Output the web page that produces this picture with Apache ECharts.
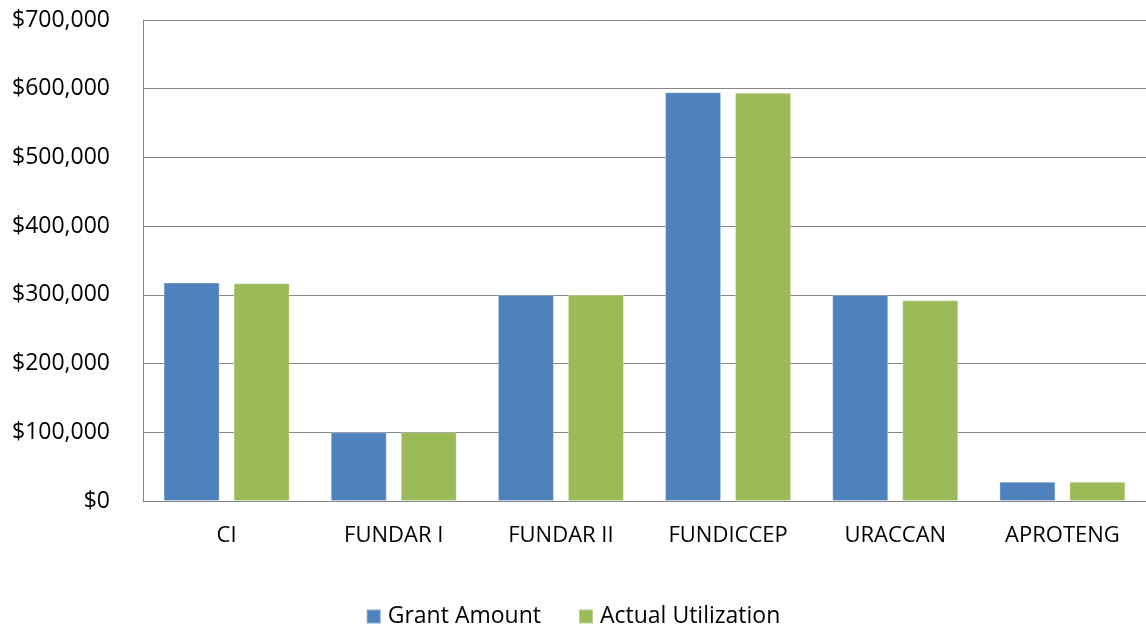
<!DOCTYPE html>
<html>
<head>
<meta charset="utf-8">
<title>Grant Amount vs Actual Utilization</title>
<script src="https://cdn.jsdelivr.net/npm/echarts@6/dist/echarts.min.js"></script>
<style>
  html, body { margin: 0; padding: 0; background: #ffffff; }
  #chart { width: 1146px; height: 627px; }
</style>
</head>
<body>
<div id="chart"></div>
<script>
// data
var categories = ['CI', 'FUNDAR I', 'FUNDAR II', 'FUNDICCEP', 'URACCAN', 'APROTENG']
var grantAmount = [318000, 100000, 300000, 595000, 300000, 28000]
var actualUtilization = [317000, 100000, 300000, 594000, 292000, 28000]
var seriesNames = ['Grant Amount', 'Actual Utilization']

var fontName = '"Open Sans", "Liberation Sans", sans-serif'
var lineColor = '#868686'

var chart = echarts.init(document.getElementById('chart'))

var option = {
    animation: false,
    textStyle: { fontFamily: fontName },
    grid: {
        left: 143,
        right: 0,
        top: 20,
        bottom: 126
    },
    legend: {
        data: seriesNames,
        left: 'center',
        top: 600,
        itemWidth: 14,
        itemHeight: 14,
        itemGap: 37,
        icon: 'rect',
        textStyle: { color: '#000000', fontSize: 23, fontFamily: fontName, padding: [0, 0, 0, 2] }
    },
    xAxis: {
        type: 'category',
        data: categories,
        axisLine: { show: true, lineStyle: { color: lineColor, width: 1 } },
        axisTick: { show: false },
        axisLabel: { color: '#000000', fontSize: 22, margin: 24, fontFamily: fontName }
    },
    yAxis: {
        type: 'value',
        min: 0,
        max: 700000,
        interval: 100000,
        axisLine: { show: true, lineStyle: { color: lineColor, width: 1 } },
        axisTick: { show: false },
        splitLine: { show: true, lineStyle: { color: lineColor, width: 1 } },
        axisLabel: {
            color: '#000000',
            fontSize: 23,
            margin: 33,
            fontFamily: fontName,
            formatter: function (v) { return '$' + v.toLocaleString('en-US') }
        }
    },
    series: [{
        name: seriesNames[0],
        type: 'bar',
        data: grantAmount,
        barWidth: 56,
        barGap: '25%',
        itemStyle: { color: '#4F81BD', borderColor: 'rgba(255,255,255,0.3)', borderWidth: 1 }
    }, {
        name: seriesNames[1],
        type: 'bar',
        data: actualUtilization,
        barWidth: 56,
        barGap: '25%',
        itemStyle: { color: '#9BBB59', borderColor: 'rgba(255,255,255,0.3)', borderWidth: 1 }
    }]
}

chart.setOption(option)
</script>
</body>
</html>
